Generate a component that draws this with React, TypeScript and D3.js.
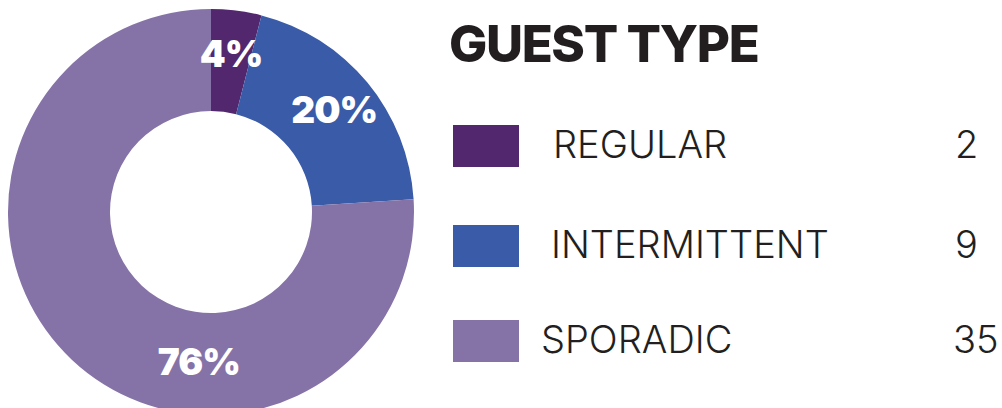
import React from "react";
import * as d3 from "d3";

const categories = ["REGULAR", "INTERMITTENT", "SPORADIC"];
const counts = [2, 9, 35];
const percents = [4, 20, 76];
const colors = ["#52276E", "#3A5BA8", "#8573A8"];
const title = "GUEST TYPE";

const W = 1002;
const H = 408;

export default function App() {
  const cx = 211;
  const cy = 212;
  const outerR = 203;
  const innerR = 101;

  const pie = d3.pie<number>().sort(null).value((d) => d);
  const arcs = pie(percents);
  const arcGen = d3.arc<d3.PieArcDatum<number>>().innerRadius(innerR).outerRadius(outerR);
  const labelR = 160;

  const labelPos = (a: d3.PieArcDatum<number>, i: number) => {
    let ang = (a.startAngle + a.endAngle) / 2;
    let r = labelR;
    if (i === 2) {
      ang = Math.PI * 1.026;
      r = 150;
    }
    return [Math.sin(ang) * r, -Math.cos(ang) * r];
  };

  const labelX = [553, 551, 541];
  const rowTop = [125, 225, 320];

  return (
    <svg
      width={W}
      height={H}
      style={{ position: "absolute", left: 0, top: 0, background: "#fff" }}
      fontFamily="Inter, 'Open Sans', sans-serif"
    >
      <rect width={W} height={H} fill="#fff" />
      <g transform={`translate(${cx},${cy})`}>
        {arcs.map((a, i) => (
          <path key={i} d={arcGen(a) || ""} fill={colors[i]} />
        ))}
        {arcs.map((a, i) => {
          const [x, y] = labelPos(a, i);
          return (
            <text
              key={"l" + i}
              x={x}
              y={y}
              dy="0.36em"
              textAnchor="middle"
              fill="#fff"
              fontSize={37}
              fontWeight={900}
              letterSpacing={-1}
            >
              {percents[i]}%
            </text>
          );
        })}
      </g>
      <text x={449} y={62} fontSize={51} fontWeight={800} fill="#221e1f" letterSpacing={-1.4}>
        {title}
      </text>
      {categories.map((c, i) => {
        const yTop = rowTop[i];
        return (
          <g key={c}>
            <rect x={453} y={yTop} width={66} height={42} fill={colors[i]} />
            <text x={labelX[i]} y={yTop + 33} fontSize={38} fontWeight={300} fill="#231f20">
              {c}
            </text>
            <text x={i === 2 ? 953 : 955} y={yTop + 33} fontSize={38} fontWeight={300} fill="#231f20">
              {counts[i]}
            </text>
          </g>
        );
      })}
    </svg>
  );
}
